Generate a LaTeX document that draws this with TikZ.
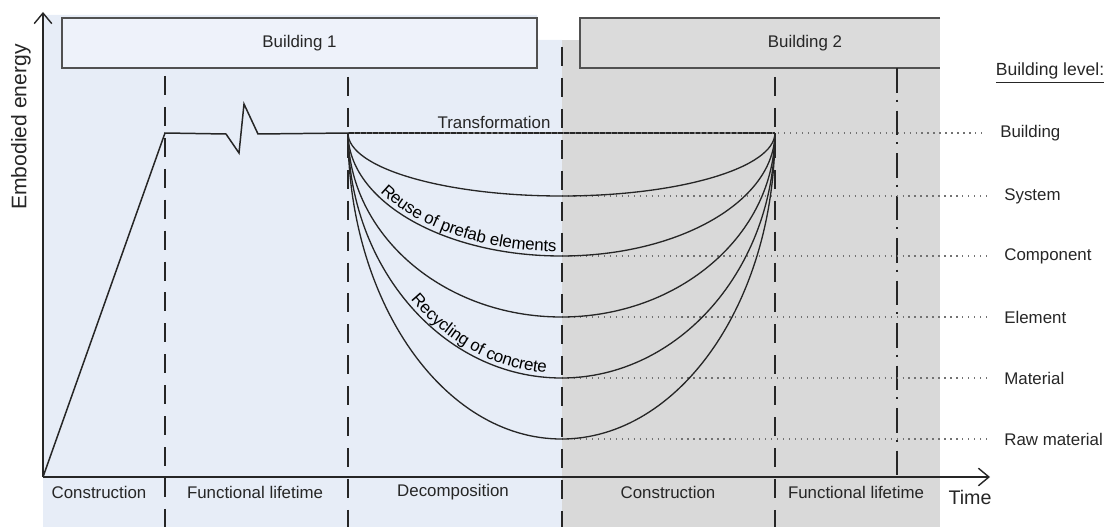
\documentclass[tikz,border=0pt]{standalone}
\usepackage{fontspec}
\setmainfont{Liberation Sans}
\usetikzlibrary{arrows.meta,decorations.text}

\definecolor{bgblue}{RGB}{231,237,247}
\definecolor{boxblue}{RGB}{238,242,250}
\definecolor{bggrey}{RGB}{217,217,217}
\definecolor{boxgrey}{RGB}{219,219,219}
\definecolor{ink}{RGB}{38,38,38}
\newcommand\lblfont{\fontsize{9.6}{11}\selectfont}

\begin{document}
\begin{tikzpicture}[x=0.02cm,y=-0.02cm,
                    >={Straight Barb[length=6pt,width=10pt]},
                    lbl/.style={font=\lblfont,text=ink,inner sep=0pt},
                    bigtxt/.style={font=\fontsize{12}{14}\selectfont,text=ink,inner sep=0pt},
                    frame/.style={draw=ink!80,line width=1pt},
                    axis/.style={draw=ink,line width=0.8pt},
                    phase/.style={draw=ink,line width=1.6pt,dash pattern=on 10.8pt off 6.8pt},
                    phasedot/.style={draw=ink,line width=1.6pt,dash pattern=on 14pt off 4pt on 1.2pt off 5pt},
                    curve/.style={draw=ink,line width=0.75pt},
                    level/.style={draw=ink!65,line width=0.7pt,dash pattern=on 0.7pt off 2.7pt}]

  \useasboundingbox (0,0) rectangle (1115,527);

  % achtergrond per gebouw
  \fill[bgblue] (43,15) -- (537,15) -- (537,40) -- (562,40) -- (562,527) -- (43,527) -- cycle;
  \fill[bggrey] (562,40) rectangle (940,527);

  % gebouwen
  \fill[boxblue] (62,18) rectangle (537,68);
  \draw[frame] (62,18) rectangle (537,68);
  \node[lbl] (b1) at (299.5,43) {Building 1};
  \fill[boxgrey] (580,18) rectangle (940,68);
  \draw[frame] (940,18) -- (580,18) -- (580,68) -- (940,68);
  \node[lbl] (b2) at (805,43) {Building 2};

  % fasegrenzen
  \foreach \x/\t in {165/76,348/77,562/47,775/77}
    \draw[phase] (\x,\t) -- (\x,527);
  \draw[phasedot] (897,68) -- (897,477);

  % assen
  \draw[axis,->] (43,477) -- (43,12);
  \draw[axis,->] (43,477) -- (990,477);
  \node[bigtxt,rotate=90] (ylab) at (21,127) {Embodied energy};
  \node[font=\fontsize{11.2}{13}\selectfont,text=ink,inner sep=0pt] (time) at (970,497) {Time};

  % fasen
  \node[lbl] (c1) at (99,492) {Construction};
  \node[lbl] (f1) at (255,492) {Functional lifetime};
  \node[lbl] (d1) at (453,492) {Decomposition};
  \node[lbl] (c2) at (668,492) {Construction};
  \node[lbl] (f2) at (856,492) {Functional lifetime};

  % niveaus
  \node[lbl,font=\fontsize{10}{12}\selectfont] (head) at (1050,73) {\underline{Building level:}};
  \node[lbl,anchor=west] (bld) at (1000,133) {Building};
  \draw[curve] (348,133) -- (775,133);
  \draw[level] (348,133) -- ([xshift=-8pt]bld.west);
  \foreach \nm/\y/\txt in {sys/196/System,comp/256/Component,elem/317/Element,
                           mat/378/Material,raw/439/Raw material} {
    \node[lbl,anchor=west] (\nm) at (1004,\y) {\txt};
    \draw[level] (562,\y) -- ([xshift=-8pt]\nm.west);
  }

  % energieverloop gebouw 1
  \draw[curve,line width=0.85pt] (43,477) -- (165,133) -- (226,134) -- (239,153)
        -- (244,104) -- (258,134) -- (348,133);

  % demontage en hergebruik
  \foreach \d in {63,123,184,245,306}
    \draw[curve] (348,133) arc[start angle=180,end angle=360,
                               x radius=4.27cm,y radius=\d*0.02cm];
  \node[lbl] (trans) at (494,122) {Transformation};
  \path[color=ink,decorate,decoration={text along path,raise=2.5pt,
        text align={align=right,right indent=3pt},
        text={|\lblfont|Reuse of prefab elements}}]
    (348,133) arc[start angle=180,end angle=270,x radius=4.27cm,y radius=2.46cm];
  \path[color=ink,decorate,decoration={text along path,raise=2.5pt,
        text align={align=right,right indent=9pt},
        text={|\lblfont|Recycling of concrete}}]
    (348,133) arc[start angle=180,end angle=270,x radius=4.27cm,y radius=4.9cm];
\end{tikzpicture}
\end{document}
